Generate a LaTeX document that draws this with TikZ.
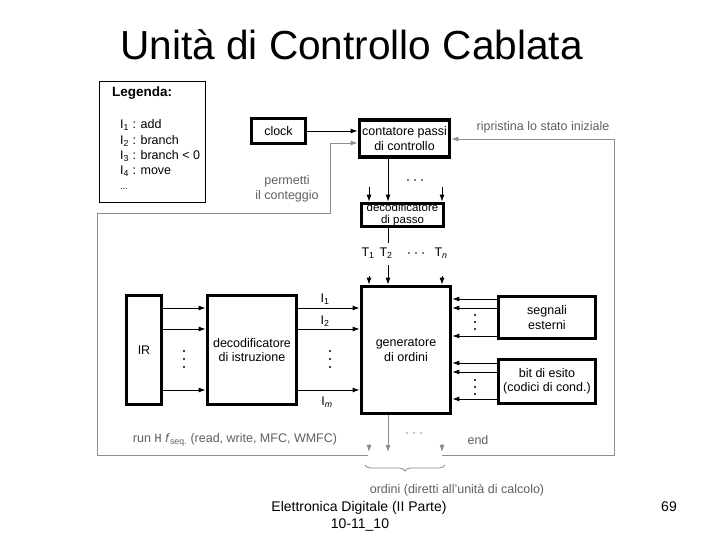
\documentclass[tikz,border=0pt]{standalone}
\usepackage{fontspec}
\setmainfont{Liberation Sans}
\setmonofont{Liberation Mono}
\usetikzlibrary{arrows.meta,decorations.pathreplacing}
\definecolor{lgray}{RGB}{140,140,140}
\definecolor{tgray}{RGB}{95,95,95}
\begin{document}
\begin{tikzpicture}[x=1pt,y=-1pt,
  box/.style={draw,line width=3.8pt,inner sep=0pt,align=center,font=\fontsize{12.5}{14.5}\selectfont},
  arr/.style={-{Latex[length=7pt,width=5pt]},line width=0.9pt},
  garr/.style={arr,lgray},
  lab/.style={font=\fontsize{12.5}{15}\selectfont,inner sep=0pt,align=center},
  glab/.style={lab,text=tgray},
  leglab/.style={font=\fontsize{12.5}{15}\selectfont,inner sep=0pt,anchor=base west},
  dot/.style={circle,fill,inner sep=0pt,minimum size=2.4pt},
]
\useasboundingbox (0,0) rectangle (720,540);
% title
\node[anchor=base,inner sep=0pt,font=\fontsize{40.6}{48}\selectfont] (title) at (351.5,60) {Unità di Controllo Cablata};
% legend
\node[draw,line width=0.8pt,minimum width=106,minimum height=121,inner sep=0pt] (leg) at (152.5,142) {};
\node[leglab,font=\fontsize{13.5}{15}\selectfont\bfseries] (lg0) at (112,97) {Legenda:};
\node[leglab] (lg1) at (120,129) {I\textsubscript{1} : add};
\node[leglab] (lg2) at (120,145) {I\textsubscript{2} : branch};
\node[leglab] (lg3) at (120,160) {I\textsubscript{3} : branch < 0};
\node[leglab] (lg4) at (120,175) {I\textsubscript{4} : move};
\node[leglab,font=\fontsize{9}{10}\selectfont] (lg5) at (120,190) {...};
% boxes
\node[box,minimum width=54,minimum height=25] (clock) at (278.5,131) {clock};
\node[box,minimum width=90,minimum height=37] (cont) at (404.5,138.5) {contatore passi\\di controllo};
\node[box,minimum width=82,minimum height=23,font=\fontsize{11.5}{12}\selectfont] (dpasso) at (402.5,215) {decodificatore\\di passo};
\node[box,minimum width=89,minimum height=127] (gen) at (406,350) {generatore\\di ordini};
\node[box,minimum width=97,minimum height=42] (segn) at (547,317.5) {segnali\\esterni};
\node[box,minimum width=97,minimum height=44] (bit) at (547,381.5) {bit di esito\\(codici di cond.)};
\node[box,minimum width=35,minimum height=109] (ir) at (144,350) {IR};
\node[box,minimum width=89,minimum height=109] (dec) at (252,350) {decodificatore\\di istruzione};
% clock arrow
\draw[arr] (clock.east) -- (cont.west |- clock.east);
% gray loop
\coordinate (p0) at (97,213);
\coordinate (p1) at (330,213);
\coordinate (p2) at (97,455);
\coordinate (p3) at (368,455);
\coordinate (p4) at (442,455);
\coordinate (p5) at (614,455);
\coordinate (p6) at (614,139);
\draw[garr] (p3) -- (p2) -- (p0) -- (p1) -- (330,143) -- (cont.west |- 0,143);
\draw[garr] (p4) -- (p5) -- (p6) -- (cont.east |- p6);
\node[glab] (perm) at (287,189) {permetti\\il conteggio};
\node[glab] (rip) at (543,127) {ripristina lo stato iniziale};
% counter to step decoder
\draw[arr] (cont.south -| 388,0) -- (dpasso.north -| 388,0);
\foreach \x in {369,442} \draw[arr] (\x,187) -- (dpasso.north -| \x,0);
\foreach \x in {408,415,422} \node[dot,minimum size=1.8pt] at (\x,180) {};
% step decoder to generator
\draw[line width=0.9pt] (dpasso.south -| 388,0) -- (388,243);
\node[lab] (t1) at (368,253) {T\textsubscript{1}};
\node[lab] (t2) at (386,253) {T\textsubscript{2}};
\foreach \x in {409,416,423} \node[dot,minimum size=1.8pt] at (\x,253) {};
\node[lab] (tn) at (441,253) {T\textsubscript{\textit{n}}};
\draw[arr] (388,265) -- (gen.north -| 388,0);
\foreach \x in {369,442} \draw[arr] (\x,276) -- (gen.north -| \x,0);
% IR to decoder
\foreach \y in {308,329,390} \draw[arr] (ir.east |- 0,\y) -- (dec.west |- 0,\y);
\foreach \y in {351,359,367} \node[dot] at (184,\y) {};
% decoder to generator
\foreach \y in {308,329,390} \draw[arr] (dec.east |- 0,\y) -- (gen.west |- 0,\y);
\foreach \y in {351,359,367} \node[dot] at (330,\y) {};
\node[lab] (i1) at (325,299) {I\textsubscript{1}};
\node[lab] (i2) at (325,321) {I\textsubscript{2}};
\node[lab] (im) at (327,402) {I\textsubscript{\textit{m}}};
% external signals
\foreach \y in {299,308,336} \draw[arr] (segn.west |- 0,\y) -- (gen.east |- 0,\y);
\foreach \y in {315,322,329} \node[dot] at (475,\y) {};
\foreach \y in {363,372,399} \draw[arr] (bit.west |- 0,\y) -- (gen.east |- 0,\y);
\foreach \y in {380,387,394} \node[dot] at (475,\y) {};
% outputs
\draw[garr] (gen.south -| 388,0) -- (388,452);
\foreach \x in {369,442} \draw[garr] (\x,444) -- (\x,452);
\foreach \x in {407,414,421} \node[dot,minimum size=1.8pt,lgray] at (\x,433) {};
\node[glab] (run) at (235,440) {run {\ttfamily H} \textit{f}\textsubscript{seq.} (read, write, MFC, WMFC)};
\node[glab] (endl) at (478,440) {end};
\draw[lgray,line width=0.8pt,decorate,decoration={brace,mirror,amplitude=6pt}] (365,465) -- (445,465);
\node[glab] (ord) at (457,490) {ordini (diretti all'unità di calcolo)};
% footer
\node[anchor=base,inner sep=0pt,font=\fontsize{14}{16}\selectfont] (f1) at (359,511) {Elettronica Digitale (II Parte)};
\node[anchor=base,inner sep=0pt,font=\fontsize{14}{16}\selectfont] (f2) at (360,528) {10-11\_10};
\node[anchor=base,inner sep=0pt,font=\fontsize{14}{16}\selectfont] (pg) at (669,511) {69};
\end{tikzpicture}
\end{document}
